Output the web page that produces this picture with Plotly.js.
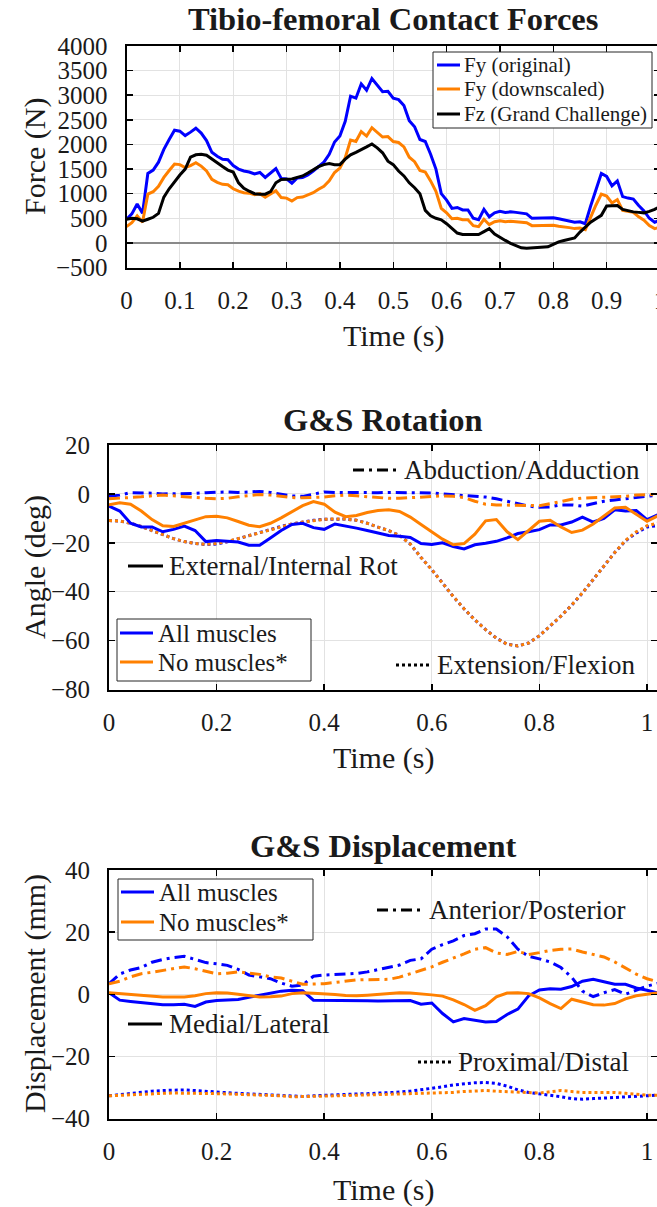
<!DOCTYPE html>
<html>
<head>
<meta charset="utf-8">
<script src="https://cdn.plot.ly/plotly-3.0.1.min.js"></script>
<style>
  html, body { margin: 0; padding: 0; overflow: hidden; background: #fff; }
  #chart { width: 662px; height: 1207px; }
</style>
</head>
<body>
<div id="chart"></div>
<script>
// ---- Tibio-femoral contact forces (N), sampled every 0.01 s ----
const forceTime = [0,0.01,0.02,0.03,0.04,0.05,0.06,0.07,0.08,0.09,0.1,0.11,0.12,0.13,0.14,0.15,0.16,0.17,0.18,0.19,0.2,0.21,0.22,0.23,0.24,0.25,0.26,0.27,0.28,0.29,0.3,0.31,0.32,0.33,0.34,0.35,0.36,0.37,0.38,0.39,0.4,0.41,0.42,0.43,0.44,0.45,0.46,0.47,0.48,0.49,0.5,0.51,0.52,0.53,0.54,0.55,0.56,0.57,0.58,0.59,0.6,0.61,0.62,0.63,0.64,0.65,0.66,0.67,0.68,0.69,0.7,0.71,0.72,0.73,0.74,0.75,0.76,0.77,0.78,0.79,0.8,0.81,0.82,0.83,0.84,0.85,0.86,0.87,0.88,0.89,0.9,0.91,0.92,0.93,0.94,0.95,0.96,0.97,0.98,0.99,1];
const fyOriginal = [480,590,790,600,1410,1480,1640,1900,2100,2290,2270,2180,2250,2330,2230,2080,1840,1760,1700,1690,1570,1500,1460,1440,1400,1430,1330,1420,1510,1310,1300,1210,1320,1330,1380,1460,1550,1640,1800,2050,2170,2470,2980,2940,3230,3100,3340,3200,3070,3080,2940,2910,2790,2480,2360,2100,2060,1800,1500,1000,870,700,720,670,670,500,470,680,530,610,640,620,630,620,600,590,500,500,500,510,510,490,470,440,420,430,390,750,1100,1410,1350,1160,1260,940,910,890,760,650,500,420,460];
const fyDownscaled = [330,410,550,420,990,1040,1150,1330,1470,1600,1590,1530,1570,1630,1560,1460,1290,1230,1190,1180,1100,1050,1020,1010,980,1000,930,990,1060,920,910,850,920,930,970,1020,1090,1150,1260,1430,1520,1730,2090,2060,2260,2170,2340,2240,2150,2160,2060,2040,1950,1740,1650,1470,1440,1260,1050,700,610,490,500,470,470,350,330,480,370,430,450,430,440,430,420,410,350,350,350,360,360,340,330,310,290,300,270,530,770,990,950,810,880,660,640,620,530,460,350,290,320];
const fzGrandChallenge = [480,500,490,440,480,520,600,930,1100,1250,1380,1500,1740,1790,1800,1780,1700,1620,1550,1480,1440,1220,1110,1050,1000,990,990,1040,1220,1290,1300,1300,1330,1360,1420,1490,1550,1590,1610,1590,1590,1700,1790,1840,1890,1950,2010,1930,1830,1660,1590,1460,1360,1220,1120,1000,660,550,500,470,390,290,200,170,170,170,170,230,290,180,110,50,-10,-60,-100,-110,-100,-100,-90,-80,-30,20,50,80,100,220,330,420,490,560,750,760,760,680,650,630,620,610,640,680,740];
const forceNames = ['Fy (original)', 'Fy (downscaled)', 'Fz (Grand Challenge)'];

// ---- G&S kinematics, sampled every 0.02 s ----
const gsTime = [0,0.02,0.04,0.06,0.08,0.1,0.12,0.14,0.16,0.18,0.2,0.22,0.24,0.26,0.28,0.3,0.32,0.34,0.36,0.38,0.4,0.42,0.44,0.46,0.48,0.5,0.52,0.54,0.56,0.58,0.6,0.62,0.64,0.66,0.68,0.7,0.72,0.74,0.76,0.78,0.8,0.82,0.84,0.86,0.88,0.9,0.92,0.94,0.96,0.98,1,1.02];

// Rotation (deg)
const abdAddAll  = [-1,-0.5,0.5,0.5,0.3,0,0,0,0.2,0.5,0.8,0.8,0.6,0.8,1,0.6,0,-0.8,-1,0,0.8,0.6,0.5,0.6,0.6,0.5,0.6,0.6,0.5,0.5,0.4,0,-0.3,-0.5,-0.8,-1.3,-2,-3,-4,-5,-5.5,-5.3,-4.5,-4.5,-5,-4,-3,-2.5,-2,-1.5,-1,-0.5];
const abdAddNone = [-2,-1.8,-1.5,-1.2,-0.8,-0.5,-0.8,-1.2,-1.5,-1.8,-2,-1.8,-1.2,-0.6,-0.2,-0.5,-1,-1.5,-1.6,-1.5,-1.3,-0.8,-0.5,-0.8,-1.2,-1.6,-1.8,-1.8,-1.5,-1.2,-1,-0.8,-1,-1.5,-3,-4.2,-4.5,-4.5,-4.5,-4.8,-4.8,-4,-3,-2.2,-1.7,-1.5,-1.5,-1.3,-1,-0.5,-0.3,-0.2];
const extIntAll  = [-5,-7,-12,-13.5,-13.5,-15.5,-14.5,-13.2,-15,-19.5,-19.1,-19.3,-19.7,-21,-21,-18,-15,-12.5,-12,-13.8,-14.5,-12.3,-13,-14,-15,-16,-17,-17.3,-17.8,-20.3,-20.7,-20,-21.5,-22.5,-20.8,-20.2,-19.4,-18,-16.2,-15.5,-14.6,-12.7,-12.7,-11.5,-9.5,-11.5,-10,-6.5,-7,-6.8,-10.5,-8.6];
const extIntNone = [-4.5,-3.6,-4.2,-7,-10.5,-13,-13.3,-12,-10.5,-9.3,-9.1,-9.8,-11.3,-12.8,-13.4,-12,-9.8,-7.2,-4.8,-3.1,-4.2,-7.5,-9.3,-8.8,-7.6,-6.8,-6.5,-7.2,-9.5,-12.5,-15.5,-18.5,-20.8,-20.3,-16.5,-11,-10.5,-15.5,-18.7,-15,-11.2,-10.8,-13.5,-15.8,-14.8,-12.3,-9.2,-5.8,-5.5,-8.5,-11.2,-9];
const extFlexAll  = [-10.9,-11.1,-12,-13.3,-15,-16.7,-18.3,-19.5,-20.3,-20.7,-20.5,-19.6,-18.3,-17.1,-15.8,-14.5,-13.3,-12.3,-11.5,-10.8,-10.4,-10.2,-10.3,-10.8,-12,-13.6,-15,-17,-20.5,-26,-31,-36.5,-42,-47,-51.5,-55.5,-59,-61.5,-62.2,-61,-58,-54,-50,-45.5,-40.5,-35,-29.5,-24,-19.2,-16,-13.5,-13];
const extFlexNone = [-10.9,-11.1,-12,-13.3,-15,-16.7,-18.3,-19.5,-20.3,-20.6,-20.3,-19.5,-18.3,-17.1,-15.8,-14.5,-13.3,-12.3,-11.5,-10.8,-10.4,-10.2,-10.3,-10.8,-12,-13.6,-15,-17,-20.5,-26,-31,-36.5,-42,-47,-51.5,-55.5,-59,-61.5,-62.2,-61,-58,-54,-50,-45.5,-40.5,-35,-29.5,-24,-19,-15.5,-13,-12];

// Displacement (mm)
const antPostAll  = [3.4,6.5,7.8,8.6,10.3,11.2,11.8,12.2,11.2,10.2,9.8,9.3,8,6.2,5.6,5,3.6,2.6,3,5.8,6.2,6.4,6.5,6.7,7.2,7.9,8.6,9.4,10.9,11.4,14.5,16,17.2,18.9,19.5,21,21,18.5,14.5,12.2,11.4,10.4,8.6,5.5,1,-0.8,0.5,1.5,0,1.2,2.6,3.5];
const antPostNone = [3.4,4.2,5.6,6.6,7.1,7.7,8.3,8.8,8.2,7.5,6.6,6.8,7.2,6.8,6.4,5.6,5.2,4.2,3.2,3.3,3.4,3.8,4.3,4.6,4.7,4.8,4.8,5.5,6.6,7.7,8.8,10.3,11.6,13,14.5,15,13.3,12.8,13.8,12.8,13.4,14.1,14.5,14.6,13.6,12.9,12,10.4,8.5,6.5,5,4];
const medLatAll   = [0.5,-1.9,-2.3,-2.7,-3,-3.4,-3.4,-3.2,-3.9,-2.5,-2,-1.8,-1.7,-1,-0.3,0.4,1,1.3,1.1,-1.9,-1.9,-1.9,-2,-2,-2.1,-2.2,-2.2,-2,-2,-3.2,-2.8,-6.2,-8.9,-7.8,-8.3,-8.9,-8.8,-6.5,-4.8,-0.5,1.4,1.8,1.6,2.5,4.2,4.8,4,3.2,3.2,2,1.3,0.4];
const medLatNone  = [0.5,0.2,-0.2,-0.4,-0.7,-0.9,-0.9,-0.9,-0.5,0.2,0.5,0.4,0,-0.5,-0.9,-0.8,-0.6,0.2,0.5,0.3,0.2,-0.1,-0.4,-0.5,-0.3,-0.1,0.3,0.5,0.4,0.2,-0.2,-0.6,-1.8,-3.3,-5.2,-3.7,-0.8,0.4,0.5,0.2,-1.2,-3,-4.6,-1.6,-2.4,-3.4,-3.5,-3,-1.5,-0.5,0,0.4];
const proxDistAll  = [-32.7,-32.3,-31.9,-31.5,-31.2,-31,-30.9,-30.8,-31,-31.3,-31.5,-31.7,-31.9,-32.1,-32.3,-32.5,-32.7,-32.9,-32.9,-32.7,-32.5,-32.3,-32.2,-32.1,-32,-31.9,-31.7,-31.5,-31.2,-30.8,-30.4,-29.8,-29.2,-28.8,-28.5,-28.4,-28.7,-29.6,-30.8,-31.6,-32,-32.5,-33,-33.6,-33.8,-33.6,-33.4,-33.3,-33.2,-33,-32.7,-32.5];
const proxDistNone = [-32.7,-32.5,-32.3,-32.1,-32,-31.9,-31.8,-31.8,-31.9,-32,-32,-32.1,-32.2,-32.3,-32.4,-32.5,-32.7,-33,-33,-32.9,-32.8,-32.7,-32.6,-32.5,-32.5,-32.5,-32.4,-32.3,-32.2,-32.1,-32,-31.8,-31.6,-31.3,-31.1,-31,-31.2,-31.4,-31.6,-31.8,-31.8,-31.4,-31,-31.3,-31.6,-31.6,-31.5,-31.6,-31.9,-32.2,-32.5,-32.5];

const caseNames = ['All muscles', 'No muscles*'];

// ---- styling ----
const W = 662, H = 1207;
const FONT = 'Liberation Serif, Times New Roman, serif';
const BLUE = '#0000ff', ORANGE = '#ff8000', BLACK = '#000000';
const LW = 3;
const DASHDOT = '11px,5px,3px,5px';
const px = x => x / W;          // pixel column -> paper x
const py = y => 1 - y / H;      // pixel row -> paper y

function line(x, y, color, dash, xa, ya, name) {
  return { type: 'scatter', mode: 'lines', x: x, y: y, name: name || '',
    xaxis: xa, yaxis: ya, showlegend: false, hoverinfo: 'skip',
    line: { color: color, width: LW, dash: dash || 'solid' } };
}

const traces = [
  line(forceTime, fyOriginal, BLUE, 'solid', 'x', 'y', forceNames[0]),
  line(forceTime, fyDownscaled, ORANGE, 'solid', 'x', 'y', forceNames[1]),
  line(forceTime, fzGrandChallenge, BLACK, 'solid', 'x', 'y', forceNames[2]),

  line(gsTime, extFlexAll, BLUE, 'dot', 'x2', 'y2'),
  line(gsTime, extFlexNone, ORANGE, 'dot', 'x2', 'y2'),
  line(gsTime, abdAddAll, BLUE, DASHDOT, 'x2', 'y2'),
  line(gsTime, abdAddNone, ORANGE, DASHDOT, 'x2', 'y2'),
  line(gsTime, extIntAll, BLUE, 'solid', 'x2', 'y2', caseNames[0]),
  line(gsTime, extIntNone, ORANGE, 'solid', 'x2', 'y2', caseNames[1]),

  line(gsTime, proxDistAll, BLUE, 'dot', 'x3', 'y3'),
  line(gsTime, proxDistNone, ORANGE, 'dot', 'x3', 'y3'),
  line(gsTime, antPostAll, BLUE, DASHDOT, 'x3', 'y3'),
  line(gsTime, antPostNone, ORANGE, DASHDOT, 'x3', 'y3'),
  line(gsTime, medLatAll, BLUE, 'solid', 'x3', 'y3', caseNames[0]),
  line(gsTime, medLatNone, ORANGE, 'solid', 'x3', 'y3', caseNames[1])
];

const axisBase = {
  showline: true, linecolor: '#000', linewidth: 2, mirror: 'ticks',
  ticks: 'inside', ticklen: 6, tickwidth: 1.5, tickcolor: '#000',
  showgrid: true, gridcolor: '#e2e2e2', gridwidth: 1, zeroline: false,
  tickfont: { family: FONT, size: 25, color: '#1a1a1a' },
  ticklabeloverflow: 'allow',
  fixedrange: true
};
const xa = (o) => Object.assign({}, axisBase, { ticklabelstandoff: 9 }, o);
const ya = (o) => Object.assign({}, axisBase, { ticklabelstandoff: 12 }, o);

const shapes = [];
const annotations = [];

function text(t, x, y, size, opts) {
  annotations.push(Object.assign({
    text: t, xref: 'paper', yref: 'paper', x: px(x), y: py(y),
    xanchor: 'center', yanchor: 'middle', showarrow: false,
    font: { family: FONT, size: size, color: '#1a1a1a' }
  }, opts || {}));
}
function key(x0, x1, y, color, dash) {
  shapes.push({ type: 'line', xref: 'paper', yref: 'paper',
    x0: px(x0), x1: px(x1), y0: py(y), y1: py(y),
    line: { color: color, width: LW, dash: dash } });
}
function box(x0, y0, x1, y1) {
  shapes.push({ type: 'rect', xref: 'paper', yref: 'paper',
    x0: px(x0), x1: px(x1), y0: py(y1), y1: py(y0),
    fillcolor: '#ffffff', line: { color: '#262626', width: 1 } });
}

// chart titles
const TITLE_SIZE = 32.5;
text('<b>Tibio-femoral Contact Forces</b>', 393, 19, TITLE_SIZE);
text('<b>G&amp;S Rotation</b>', 383, 420, TITLE_SIZE);
text('<b>G&amp;S Displacement</b>', 383, 846, TITLE_SIZE);

// axis titles
text('Time (s)', 393, 336, 30);
text('Time (s)', 383, 758, 30);
text('Time (s)', 383, 1190, 30);
text('Force (N)', 35, 157, 30, { textangle: -90 });
text('Angle (deg)', 35, 567, 30, { textangle: -90 });
text('Displacement (mm)', 35, 994, 30, { textangle: -90 });

// force legend
box(433, 52, 652, 128);
const forceColors = [BLUE, ORANGE, BLACK];
[65, 89, 114].forEach((y, i) => {
  key(437, 460, y, forceColors[i], 'solid');
  text(forceNames[i], 462, y, 21, { xanchor: 'left' });
});

// rotation: case legend and line-style keys
const STYLE_SIZE = 27;
box(117, 619, 311, 681);
key(120, 153, 633, BLUE, 'solid');
text(caseNames[0], 156, 633, 25, { xanchor: 'left' });
key(120, 153, 662, ORANGE, 'solid');
text(caseNames[1], 156, 662, 25, { xanchor: 'left' });
key(353, 398, 470, BLACK, DASHDOT);
text('Abduction/Adduction', 402, 470, STYLE_SIZE, { xanchor: 'left' });
key(128, 163, 566, BLACK, 'solid');
text('External/Internal Rot', 167, 566, STYLE_SIZE, { xanchor: 'left' });
key(396, 431, 665, BLACK, 'dot');
text('Extension/Flexion', 435, 665, STYLE_SIZE, { xanchor: 'left' });

// displacement: case legend and line-style keys
box(118, 879, 313, 940);
key(121, 154, 892, BLUE, 'solid');
text(caseNames[0], 157, 892, 25, { xanchor: 'left' });
key(121, 154, 922, ORANGE, 'solid');
text(caseNames[1], 157, 922, 25, { xanchor: 'left' });
key(377, 423, 910, BLACK, DASHDOT);
text('Anterior/Posterior', 427, 910, STYLE_SIZE, { xanchor: 'left' });
key(128, 162, 1024, BLACK, 'solid');
text('Medial/Lateral', 167, 1024, STYLE_SIZE, { xanchor: 'left' });
key(418, 452, 1062, BLACK, 'dot');
text('Proximal/Distal', 456, 1062, STYLE_SIZE, { xanchor: 'left' });

const layout = {
  width: W, height: H,
  margin: { l: 0, r: 0, t: 0, b: 0 },
  paper_bgcolor: '#ffffff', plot_bgcolor: '#ffffff',
  showlegend: false,
  xaxis:  xa({ domain: [px(126.5), px(660)], range: [0, 1], tick0: 0, dtick: 0.1, anchor: 'y' }),
  yaxis:  ya({ domain: [py(267.5), py(46)], range: [-500, 4000], tick0: 0, dtick: 500, anchor: 'x',
               zeroline: true, zerolinecolor: '#8a8a8a', zerolinewidth: 2 }),
  xaxis2: xa({ domain: [px(109), px(657)], range: [0, 548 / 538], tick0: 0, dtick: 0.2, anchor: 'y2' }),
  yaxis2: ya({ domain: [py(689.5), py(445)], range: [-80, 20], tick0: 0, dtick: 20, anchor: 'x2' }),
  xaxis3: xa({ domain: [px(109), px(657)], range: [0, 548 / 538], tick0: 0, dtick: 0.2, anchor: 'y3' }),
  yaxis3: ya({ domain: [py(1118.5), py(870)], range: [-40, 40], tick0: 0, dtick: 20, anchor: 'x3' }),
  shapes: shapes,
  annotations: annotations
};

Plotly.newPlot('chart', traces, layout, { staticPlot: true, displayModeBar: false });
</script>
</body>
</html>
